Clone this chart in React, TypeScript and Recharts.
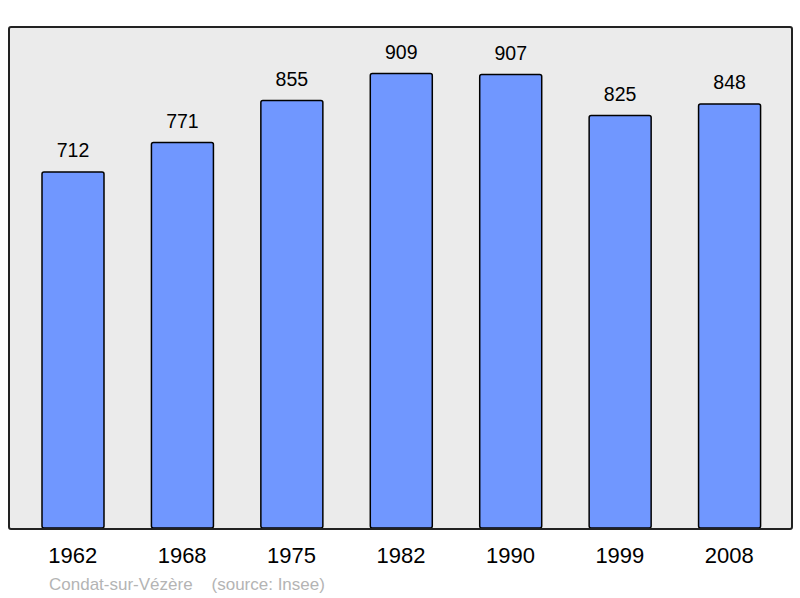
import React from 'react';
import { BarChart, Bar, XAxis, YAxis, CartesianGrid, LabelList } from 'recharts';

const years = ['1962', '1968', '1975', '1982', '1990', '1999', '2008'];
const population = [712, 771, 855, 909, 907, 825, 848];

const data = years.map((year, i) => ({ year, population: population[i] }));

const font = '"Liberation Sans", Arial, sans-serif';

export default function App() {
  return (
    <div style={{ position: 'absolute', left: 0, top: 0, width: 800, height: 598, background: '#fff', fontFamily: font }}>
      <BarChart
        width={800}
        height={598}
        data={data}
        margin={{ top: 28, right: 9, left: 9, bottom: 30 }}
        barSize={62}
      >
        <CartesianGrid horizontal={false} vertical={false} fill="#ebebeb" />
        <XAxis
          dataKey="year"
          axisLine={false}
          tickLine={false}
          height={40}
          padding={{ left: 9, right: 7 }}
          tickMargin={13}
          tick={{ fontSize: 22, fill: '#000', fontFamily: font }}
        />
        <YAxis hide domain={[0, 1000]} />
        <Bar dataKey="population" fill="#7097ff" stroke="#000" strokeWidth={1.5} radius={2} isAnimationActive={false}>
          <LabelList dataKey="population" position="top" offset={15} style={{ fontSize: 19.5, fill: '#000', fontFamily: font }} />
        </Bar>
      </BarChart>
      {/* plot frame */}
      <div
        style={{
          position: 'absolute', left: 8, top: 26, width: 781, height: 500,
          border: '2px solid #222', borderRadius: 3, pointerEvents: 'none',
        }}
      />
      <div style={{ position: 'absolute', left: 49, top: 575, fontSize: 17, color: '#b4b4b4', whiteSpace: 'pre' }}>
        {'Condat-sur-Vézère    (source: Insee)'}
      </div>
    </div>
  );
}
